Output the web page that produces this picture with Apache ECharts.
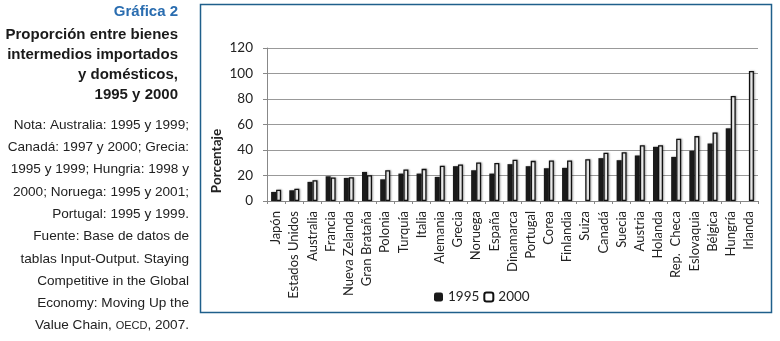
<!DOCTYPE html>
<html>
<head>
    <meta charset="UTF-8">
    <title>Gráfica 2</title>
    <style>
        * { margin: 0; padding: 0; }
        html, body { width: 780px; height: 341px; background: #fff; }
        #chart { width: 780px; height: 341px; }
    </style>
</head>
<body>
    <div id="chart"></div>
    <script src="https://cdn.jsdelivr.net/npm/echarts@6/dist/echarts.min.js"></script>
    <script>
        const paises = ['Japón', 'Estados Unidos', 'Australia', 'Francia', 'Nueva Zelanda', 'Gran Brataña',
            'Polonia', 'Turquía', 'Italia', 'Alemania', 'Grecia', 'Noruega', 'España', 'Dinamarca',
            'Portugal', 'Corea', 'Finlandia', 'Suiza', 'Canadá', 'Suecia', 'Austria', 'Holanda',
            'Rep.  Checa', 'Eslovaquia', 'Bélgica', 'Hungría', 'Irlanda'];
        const v1995 = [7.1, 8.4, 15, 19.4, 18.1, 22.8, 17, 21.5, 21.5, 18.9, 27.3, 24.1, 21.5, 28.9,
            27.3, 25.7, 26, null, 33.6, 32, 35.7, 42.5, 34.6, 39.4, 45.1, 57, null];
        const v2000 = [8.9, 9.7, 16.3, 18.4, 18.6, 20.2, 24.1, 24.7, 25.2, 27.6, 28.6, 30.2, 29.9, 32.3,
            31.5, 31.8, 31.8, 32.8, 37.8, 38.3, 43.8, 43.8, 48.8, 50.9, 53.8, 82.4, 102];
        const yTicks = [0, 20, 40, 60, 80, 100, 120];

        const titulo = ['Proporción entre bienes', 'intermedios importados', 'y domésticos,', '1995 y 2000'];
        const nota = ['Nota: Australia: 1995 y 1999;', 'Canadá: 1997 y 2000; Grecia:', '1995 y 1999; Hungria: 1998 y',
            '2000; Noruega: 1995 y 2001;', 'Portugal: 1995 y 1999.', 'Fuente: Base de datos de',
            'tablas Input-Output. Staying', 'Competitive in the Global', 'Economy: Moving Up the',
            'Value Chain, {sc|OECD}, 2007.'];

        const chart = echarts.init(document.getElementById('chart'));

        // textos del panel izquierdo
        const textos = [{
            type: 'text', right: 780 - 178, top: 4,
            style: { text: 'Gráfica 2', font: 'bold 15px "Liberation Sans", Arial', fill: '#2a6db0', align: 'right' }
        }];
        titulo.forEach((t, i) => {
            textos.push({
                type: 'text', right: 780 - 178, top: 27 + i * 20.2,
                style: { text: t, font: 'bold 15px "Liberation Sans", Arial', fill: '#1a1a1a', align: 'right' }
            });
        });
        nota.forEach((t, i) => {
            textos.push({
                type: 'text', right: 780 - 189, top: 118 + i * 22.3,
                style: {
                    text: t, font: '13.6px "Liberation Sans", Arial', fill: '#222', align: 'right',
                    rich: { sc: { fontSize: 11, fontFamily: '"Liberation Sans", Arial', fill: '#222' } }
                }
            });
        });
        // marco
        textos.push({
            type: 'rect', shape: { x: 200.5, y: 4.5, width: 571, height: 308 },
            style: { fill: 'none', stroke: '#1f5f8b', lineWidth: 1.5 }, z: -1
        });
        // título del eje y
        textos.push({
            type: 'text', x: 217, y: 161, rotation: Math.PI / 2,
            style: {
                text: 'Porcentaje', font: 'bold 13.5px Lato', fill: '#222',
                align: 'center', verticalAlign: 'middle'
            }
        });

        chart.setOption({
            backgroundColor: '#fff',
            animation: false,
            graphic: textos,
            grid: { left: 267, right: 22, top: 48, bottom: 140 },
            legend: {
                data: ['1995', '2000'],
                left: 429, top: 285,
                itemWidth: 9, itemHeight: 9, itemGap: 4,
                textStyle: { fontFamily: 'Lato', fontSize: 13.5, color: '#222' }
            },
            xAxis: {
                type: 'category',
                data: paises,
                axisLine: { lineStyle: { color: '#888' } },
                axisTick: { show: true, alignWithLabel: false, length: 3, lineStyle: { color: '#888' } },
                axisLabel: {
                    rotate: 90, interval: 0, margin: 10,
                    fontFamily: 'Lato', fontSize: 13, color: '#222'
                }
            },
            yAxis: {
                type: 'value',
                min: 0, max: 120, interval: 20,
                axisLine: { show: true, lineStyle: { color: '#888' } },
                axisTick: { show: true, length: 4, lineStyle: { color: '#888' } },
                axisLabel: {
                    margin: 14, fontFamily: 'Lato', fontSize: 13.5, color: '#222',
                    formatter: v => yTicks.includes(v) ? String(v) : ''
                },
                splitLine: { lineStyle: { color: '#999' } }
            },
            series: [{
                name: '1995',
                type: 'bar',
                data: v1995,
                barWidth: 5,
                barGap: '0%',
                itemStyle: { color: '#1a1a1a', shadowColor: 'rgba(0,0,0,0.3)', shadowBlur: 2, shadowOffsetX: 1 }
            }, {
                name: '2000',
                type: 'bar',
                data: v2000,
                barWidth: 5,
                itemStyle: { color: '#fff', borderColor: '#111', borderWidth: 1.3, shadowColor: 'rgba(0,0,0,0.3)', shadowBlur: 2, shadowOffsetX: 1 }
            }]
        });
    </script>
</body>
</html>
